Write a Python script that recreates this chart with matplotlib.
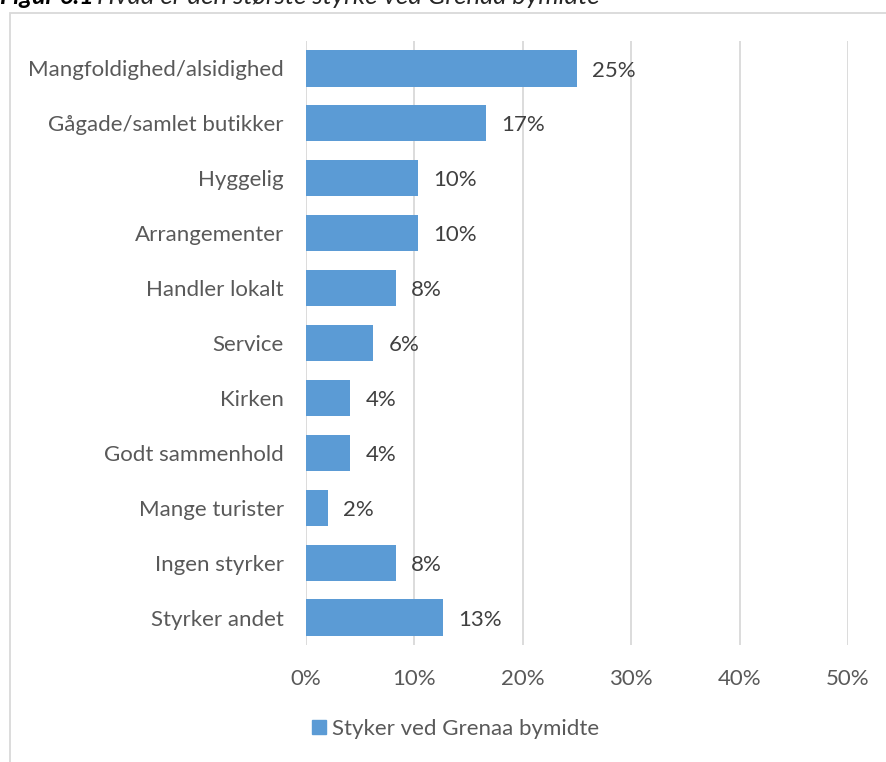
import matplotlib
matplotlib.use("Agg")
import matplotlib.pyplot as plt
from matplotlib.patches import Rectangle

plt.rcParams['font.family'] = ['Lato', 'DejaVu Sans']

categories = ["Mangfoldighed/alsidighed", "Gågade/samlet butikker", "Hyggelig",
              "Arrangementer", "Handler lokalt", "Service", "Kirken",
              "Godt sammenhold", "Mange turister", "Ingen styrker", "Styrker andet"]
values = [25.0, 16.6, 10.3, 10.3, 8.3, 6.2, 4.1, 4.1, 2.0, 8.3, 12.6]
series_name = "Styker ved Grenaa bymidte"
xticks = [0, 10, 20, 30, 40, 50]

W, H = 887, 762
fig = plt.figure(figsize=(W / 100, H / 100), dpi=100)
ax = fig.add_axes([306 / W, 1 - 645 / H, (848 - 306) / W, (645 - 41) / H])

bar_color = "#5b9bd5"
ypos = list(range(len(categories)))
ax.barh(ypos, values, height=0.66, color=bar_color, zorder=3)
ax.set_ylim(len(categories) - 0.5, -0.5)
ax.set_xlim(0, 50)
ax.set_xticks(xticks)
ax.set_xticklabels([f"{t}%" for t in xticks])
ax.set_yticks(ypos)
ax.set_yticklabels(categories)
ax.tick_params(axis='both', length=0, labelsize=16, labelcolor="#595959")
ax.tick_params(axis='x', pad=17)
ax.tick_params(axis='y', pad=16)
ax.grid(axis='x', color="#d9d9d9", linewidth=1.3, zorder=0)
for s in ax.spines.values():
    s.set_visible(False)

for y, v in zip(ypos, values):
    ax.annotate(f"{v:.0f}%", (v, y), xytext=(11, -1.5), textcoords='offset points',
                va='center', ha='left', fontsize=16, color="#404040")

ax.legend([Rectangle((0, 0), 1, 1, color=bar_color)], [series_name],
          loc='center', bbox_to_anchor=(456 / W, 1 - 729 / H),
          bbox_transform=fig.transFigure, frameon=False, fontsize=16,
          handlelength=0.6, handleheight=0.6, handletextpad=0.3,
          labelcolor="#595959")

# outer chart frame
fig.patches.append(Rectangle((10 / W, -0.1), 1.2, 1 - 13 / H + 0.1,
                             transform=fig.transFigure, fill=False,
                             edgecolor="#d9d9d9", linewidth=1.3))

# title, cut off at top as in the source
fig.text(0 / W, 1 - 4 / H, "Figur 6.1", fontsize=18, fontweight='bold',
         style='italic', va='baseline', ha='left')
fig.text(97 / W, 1 - 4 / H, "Hvad er den største styrke ved Grenaa bymidte",
         fontsize=18.5, style='italic', va='baseline', ha='left', color="#262626")

fig.savefig("out.png", dpi=100)
